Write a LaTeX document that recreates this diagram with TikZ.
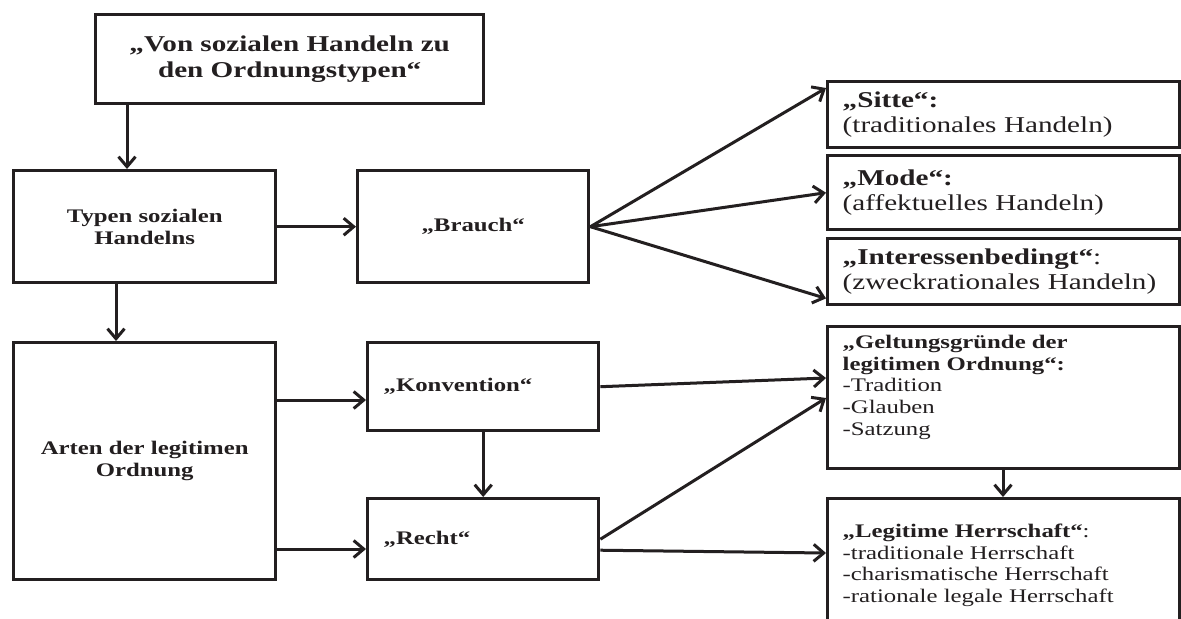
\documentclass[tikz,border=0pt]{standalone}
\usepackage{fontspec}
\setmainfont{Liberation Serif}[FakeStretch=1.29]
\usetikzlibrary{arrows.meta,calc}
\definecolor{ink}{HTML}{231F20}
\newcommand{\bigf}{\fontsize{11.3pt}{12.75pt}\selectfont}
\newcommand{\smallf}{\fontsize{9.6pt}{10.8pt}\selectfont}
\begin{document}
\begin{tikzpicture}[x=0.5pt,y=-0.5pt,
  box/.style={draw=ink, line width=1.7pt, text=ink, inner sep=0pt, anchor=north west},
  cbox/.style={box, align=center, font=\smallf\bfseries},
  lbox/.style={box, inner xsep=7.5pt, inner ysep=0pt, text width=161pt, align=left, font=\bigf},
  kbox/.style={box, inner xsep=8pt, inner ysep=0pt, text width=99.5pt, align=left, font=\smallf\bfseries},
  gbox/.style={box, inner xsep=7.5pt, inner ysep=0pt, font=\smallf},
  arr/.style={draw=ink, line width=1.5pt, -{Straight Barb[length=5pt,width=8.5pt,line width=1.5pt]}},
]
\clip (0,0) rectangle (1181,618);
\fill[white] (0,0) rectangle (1181,618);

% nodes
\node[cbox, font=\bigf\bfseries, minimum width=194pt, minimum height=44.5pt] (top) at (94,13)
  {„Von sozialen Handeln zu\\den Ordnungstypen“};
\node[cbox, minimum width=131pt, minimum height=56pt] (typen) at (12,169)
  {Typen sozialen\\Handelns};
\node[cbox, minimum width=115.5pt, minimum height=56pt] (brauch) at (356,169)
  {„Brauch“};
\node[cbox, minimum width=131pt, minimum height=118.5pt] (arten) at (12,341)
  {Arten der legitimen\\Ordnung};
\node[kbox, minimum width=115.5pt, minimum height=44pt] (konv) at (366,341)
  {„Konvention“};
\node[kbox, minimum width=115.5pt, minimum height=40.5pt] (recht) at (366,497)
  {„Recht“};

\node[lbox, minimum width=176pt, minimum height=33pt] (sitte) at (826,80)
  {{\bfseries „Sitte“:}\\(traditionales Handeln)};
\node[lbox, minimum width=176pt, minimum height=37pt] (mode) at (826,154)
  {{\bfseries „Mode“:}\\(affektuelles Handeln)};
\node[lbox, minimum width=176pt, minimum height=33pt] (inter) at (826,237)
  {{\bfseries „Interessenbedingt“}:\\(zweckrationales Handeln)};

\node[gbox, minimum width=176pt, minimum height=71pt] (gelt) at (826,325)
  {\parbox[c][71pt][t]{161pt}{\raggedright\rule{0pt}{11pt}{\bfseries „Geltungsgründe der\\legitimen Ordnung“:}\\-Tradition\\-Glauben\\-Satzung}};
\node[gbox, minimum width=176pt, minimum height=76.5pt] (legit) at (826,497)
  {\parbox[c][76.5pt][t]{161pt}{\raggedright\rule{0pt}{19.5pt}{\bfseries „Legitime Herrschaft“}:\\-traditionale Herrschaft\\-charismatische Herrschaft\\-rationale legale Herrschaft}};

% helper coordinates
\coordinate (ax) at (127,0);
\coordinate (bx) at (116,0);
\coordinate (ky) at (0,400);
\coordinate (ry) at (0,549);
\coordinate (gx) at (1003,0);

% connectors
\draw[arr] (top.south -| ax) -- (typen.north -| ax);
\draw[arr] (typen.east) -- (brauch.west);
\draw[arr] (typen.south -| bx) -- (arten.north -| bx);
\draw[arr] (brauch.east) -- ($(sitte.north west)+(0,8)$);
\draw[arr] (brauch.east) -- (mode.west);
\draw[arr] (brauch.east) -- ($(inter.south west)+(0,-8)$);
\draw[arr] (arten.east |- ky) -- (konv.west |- ky);
\draw[arr] (arten.east |- ry) -- (recht.west |- ry);
\draw[arr] (konv.south) -- (recht.north);
\draw[arr] (konv.east) -- ($(gelt.north west)+(0,53)$);
\draw[arr] (recht.east) -- ($(gelt.north west)+(0,73)$);
\draw[arr] ($(recht.east)+(0,11)$) -- ($(legit.north west)+(0,56)$);
\draw[arr] (gelt.south -| gx) -- (legit.north -| gx);
\end{tikzpicture}
\end{document}
